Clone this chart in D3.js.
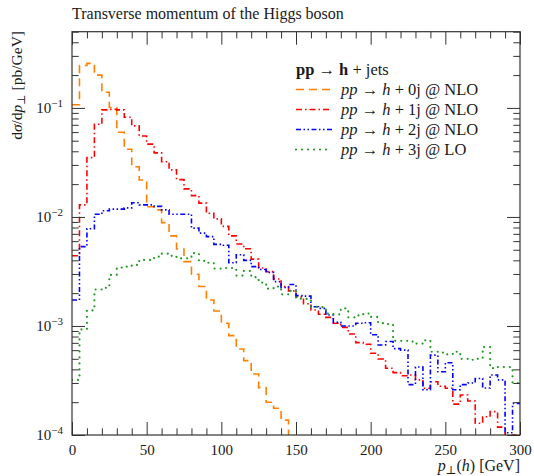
<!DOCTYPE html>
<html><head><meta charset="utf-8">
<script src="https://cdn.jsdelivr.net/npm/d3@7"></script>
<style>
body{margin:0;background:#fff}
svg{display:block}
text{font-family:"Liberation Serif","DejaVu Serif",serif;fill:#1a1a1a}
</style>
</head><body>
<svg id="chart" width="534" height="476"></svg>
<script>
// ---------------- data ----------------
const binWidth = 5; // GeV
const title = "Transverse momentum of the Higgs boson";
const xTicks = [0, 50, 100, 150, 200, 250, 300];
const yTicks = [1e-4, 1e-3, 1e-2, 1e-1];
const yTickExp = ["−4", "−3", "−2", "−1"];

const h0jNLO = [0.107, 0.245, 0.256, 0.200, 0.139, 0.101, 0.0598, 0.0418, 0.0289, 0.0218,
  0.0124, 0.0116, 0.00887, 0.0067, 0.00508, 0.00389, 0.00298, 0.0023, 0.00173, 0.00137,
  0.00106, 0.000815, 0.000615, 0.000481, 0.000363, 0.000272, 0.000200, 0.000176, 0.000137, 0.00008];

const h1jNLO = [0.0044, 0.0129, 0.035, 0.0708, 0.096, 0.097, 0.096, 0.0822, 0.0684, 0.0553,
  0.0465, 0.0387, 0.0321, 0.027, 0.022, 0.0181, 0.0157, 0.0134, 0.0108, 0.0096,
  0.0082, 0.0067, 0.00565, 0.0051, 0.0041, 0.0034, 0.00315, 0.0027, 0.0023, 0.0021,
  0.00185, 0.0016, 0.0014, 0.00128, 0.0012, 0.00106, 0.00097, 0.000845, 0.000703, 0.00068,
  0.000562, 0.000498, 0.000409, 0.000373, 0.00035, 0.000355, 0.00032, 0.000268, 0.000308, 0.00028,
  0.000268, 0.000192, 0.000233, 0.000205, 0.000128, 0.000147, 0.000164, 0.000118, 0.000095, 0.0001];

const h2jNLO = [0.00173, 0.00534, 0.0078, 0.0106, 0.0114, 0.0118, 0.0118, 0.0121, 0.0135, 0.0129,
  0.0129, 0.0125, 0.0116, 0.0106, 0.0106, 0.0106, 0.0079, 0.0071, 0.0066, 0.0056,
  0.0055, 0.0038, 0.0045, 0.0040, 0.0035, 0.0033, 0.0031, 0.00255, 0.00225, 0.0024,
  0.0019, 0.00188, 0.0015, 0.00145, 0.00126, 0.00108, 0.0010, 0.0010, 0.00106, 0.00107,
  0.00083, 0.00067, 0.00072, 0.00062, 0.0006, 0.00029, 0.00042, 0.00026, 0.00054, 0.00038,
  0.00046, 0.00026, 0.00029, 0.0003, 0.00033, 0.00027, 0.000355, 0.00032, 0.000105, 0.000195];

const h3jLO = [0.00032, 0.00093, 0.00139, 0.00216, 0.00224, 0.00294, 0.00343, 0.0035, 0.00363, 0.00403,
  0.00403, 0.00432, 0.0046, 0.0044, 0.00417, 0.00417, 0.00465, 0.00395, 0.0038, 0.00336,
  0.0034, 0.0034, 0.0029, 0.0032, 0.0028, 0.0025, 0.0022, 0.0023, 0.00195, 0.0021,
  0.00178, 0.00177, 0.0015, 0.00149, 0.0013, 0.00128, 0.00145, 0.0012, 0.00125, 0.0013,
  0.00121, 0.00106, 0.00104, 0.00073, 0.00073, 0.00072, 0.00069, 0.00074, 0.00058, 0.00057,
  0.00055, 0.00058, 0.0005, 0.00049, 0.0005, 0.00064, 0.00041, 0.00042, 0.00042, 0.0003];

const seriesNames = ["0j @ NLO", "1j @ NLO", "2j @ NLO", "3j @ LO"];
const seriesValues = [h0jNLO, h1jNLO, h2jNLO, h3jLO];

// ---------------- layout ----------------
const L = 72, R = 520, T = 31.7, B = 435;
const svg = d3.select("#chart");
const x = d3.scaleLinear().domain([0, 300]).range([L, R]);
const y = d3.scaleLog().domain([1e-4, 0.5]).range([B, T]);

const styles = [
  {color: "#ff8000", dash: "8,5", width: 1.6, cap: "butt"},
  {color: "#ff0000", dash: "6,3,1.5,3", width: 1.6, cap: "butt"},
  {color: "#0000ff", dash: "5,2.5,1.5,2.5,1.5,2.5", width: 1.6, cap: "butt"},
  {color: "#229a22", dash: "0,6", width: 2.2, cap: "round"}
];

svg.append("defs").append("clipPath").attr("id", "plotclip")
  .append("rect").attr("x", L).attr("y", T).attr("width", R - L).attr("height", B - T);

// histograms
const line = d3.line()
  .x(d => x(d[0]))
  .y(d => y(Math.max(d[1], 2e-5)))
  .curve(d3.curveStepAfter);

const gData = svg.append("g").attr("clip-path", "url(#plotclip)");
seriesValues.forEach((vals, i) => {
  const pts = vals.map((v, k) => [k * binWidth, v]);
  pts.push([vals.length * binWidth, vals[vals.length - 1]]);
  gData.append("path")
    .attr("d", line(pts))
    .attr("fill", "none")
    .attr("stroke", styles[i].color)
    .attr("stroke-width", styles[i].width)
    .attr("stroke-dasharray", styles[i].dash)
    .attr("stroke-linecap", styles[i].cap);
});

// axes
const axisColor = "#333";
const majorLen = 13, minorLen = 6.7;
const xMinor = d3.range(0, 301, 10).filter(v => v % 50 !== 0);
const yMinor = [];
[1e-4, 1e-3, 1e-2, 1e-1].forEach(d => { for (let m = 2; m <= 9; m++) if (d * m <= 0.5) yMinor.push(d * m); });

function styleAxis(g) {
  g.select(".domain").remove();
  g.selectAll(".tick line").attr("stroke", axisColor).attr("stroke-width", 1);
}

// bottom
svg.append("g").attr("transform", `translate(0,${B})`)
  .call(d3.axisBottom(x).tickValues(xTicks).tickSize(-majorLen).tickPadding(9).tickFormat(d3.format("d")))
  .call(styleAxis)
  .call(g => g.selectAll("text").attr("font-size", 15).attr("font-family", "Liberation Serif").attr("fill", "#1a1a1a"));
svg.append("g").attr("transform", `translate(0,${B})`)
  .call(d3.axisBottom(x).tickValues(xMinor).tickSize(-minorLen).tickFormat(""))
  .call(styleAxis);
// top
svg.append("g").attr("transform", `translate(0,${T})`)
  .call(d3.axisTop(x).tickValues(xTicks).tickSize(-majorLen).tickFormat(""))
  .call(styleAxis);
svg.append("g").attr("transform", `translate(0,${T})`)
  .call(d3.axisTop(x).tickValues(xMinor).tickSize(-minorLen).tickFormat(""))
  .call(styleAxis);
// left
svg.append("g").attr("transform", `translate(${L},0)`)
  .call(d3.axisLeft(y).tickValues(yTicks).tickSize(-majorLen).tickPadding(9).tickFormat(""))
  .call(styleAxis)
  .call(g => {
    g.selectAll(".tick").each(function(d, i) {
      const t = d3.select(this).select("text")
        .attr("font-size", 15).attr("font-family", "Liberation Serif").attr("fill", "#1a1a1a")
        .attr("dy", "0.32em").attr("x", -9).attr("text-anchor", "end");
      t.append("tspan").text("10");
      t.append("tspan").attr("font-size", 11).attr("dy", "-0.6em").text(yTickExp[i]);
    });
  });
svg.append("g").attr("transform", `translate(${L},0)`)
  .call(d3.axisLeft(y).tickValues(yMinor).tickSize(-minorLen).tickFormat(""))
  .call(styleAxis);
// right
svg.append("g").attr("transform", `translate(${R},0)`)
  .call(d3.axisRight(y).tickValues(yTicks).tickSize(-majorLen).tickFormat(""))
  .call(styleAxis);
svg.append("g").attr("transform", `translate(${R},0)`)
  .call(d3.axisRight(y).tickValues(yMinor).tickSize(-minorLen).tickFormat(""))
  .call(styleAxis);

// frame
svg.append("rect").attr("x", L).attr("y", T).attr("width", R - L).attr("height", B - T)
  .attr("fill", "none").attr("stroke", axisColor).attr("stroke-width", 1.2);

// title
svg.append("text").attr("x", L).attr("y", 19).attr("font-size", 16).text(title);

// x label
const xl = svg.append("text").attr("x", R).attr("y", 471).attr("text-anchor", "end").attr("font-size", 16);
xl.append("tspan").attr("font-style", "italic").text("p");
xl.append("tspan").attr("font-size", 11.5).attr("dy", 3).text("⊥");
xl.append("tspan").attr("dy", -3).text("(");
xl.append("tspan").attr("font-style", "italic").text("h");
xl.append("tspan").text(") [GeV]");

// y label
const yl = svg.append("text").attr("transform", "translate(22,31) rotate(-90)")
  .attr("text-anchor", "end").attr("font-size", 15.5);
yl.append("tspan").text("d");
yl.append("tspan").attr("font-style", "italic").text("σ");
yl.append("tspan").text("/d");
yl.append("tspan").attr("font-style", "italic").text("p");
yl.append("tspan").attr("font-size", 11).attr("dy", 3).text("⊥");
yl.append("tspan").attr("dy", -3).text(" [pb/GeV]");

// legend
const lgX = 296, lgTextX = 341;
const lt = svg.append("text").attr("x", lgX).attr("y", 75).attr("font-size", 16.5);
lt.append("tspan").attr("font-weight", "bold").text("pp");
lt.append("tspan").text(" → ");
lt.append("tspan").attr("font-weight", "bold").text("h");
lt.append("tspan").text(" + jets");

seriesNames.forEach((name, i) => {
  const cy = 89.5 + i * 20;
  svg.append("line").attr("x1", lgX).attr("x2", lgX + 36).attr("y1", cy).attr("y2", cy)
    .attr("stroke", styles[i].color).attr("stroke-width", styles[i].width)
    .attr("stroke-dasharray", styles[i].dash).attr("stroke-linecap", styles[i].cap);
  const t = svg.append("text").attr("x", lgTextX).attr("y", cy + 5).attr("font-size", 16.5);
  t.append("tspan").attr("font-style", "italic").text("pp");
  t.append("tspan").text(" → ");
  t.append("tspan").attr("font-style", "italic").text("h");
  t.append("tspan").text(" + " + name);
});
</script>
</body></html>
